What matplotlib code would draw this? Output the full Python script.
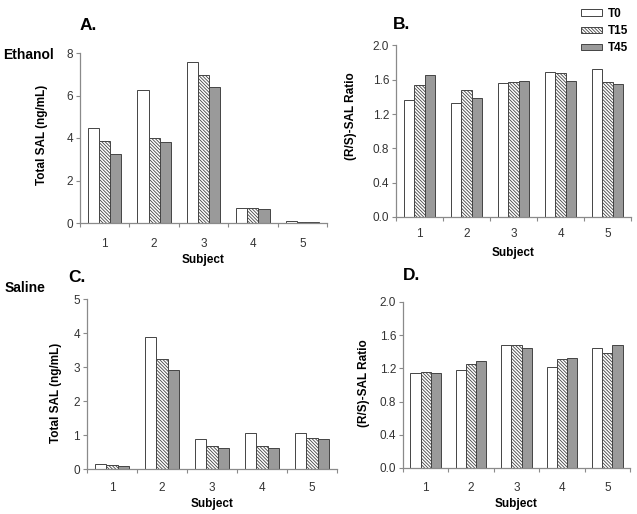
import matplotlib
matplotlib.use("Agg")
import matplotlib.pyplot as plt
import numpy as np
from matplotlib.patches import Patch

plt.rcParams["font.family"] = ["Liberation Sans", "DejaVu Sans"]
plt.rcParams["hatch.linewidth"] = 0.6

subjects = [1, 2, 3, 4, 5]
times = ["T0", "T15", "T45"]

# ethanol group
eth_total_t0 = [4.47, 6.25, 7.58, 0.70, 0.10]
eth_total_t15 = [3.86, 4.02, 6.98, 0.70, 0.05]
eth_total_t45 = [3.25, 3.83, 6.42, 0.66, 0.05]
eth_ratio_t0 = [1.36, 1.33, 1.56, 1.69, 1.73]
eth_ratio_t15 = [1.54, 1.48, 1.57, 1.68, 1.57]
eth_ratio_t45 = [1.65, 1.39, 1.59, 1.59, 1.55]

# saline group
sal_total_t0 = [0.15, 3.90, 0.88, 1.08, 1.07]
sal_total_t15 = [0.12, 3.25, 0.70, 0.70, 0.93]
sal_total_t45 = [0.09, 2.92, 0.62, 0.62, 0.90]
sal_ratio_t0 = [1.15, 1.18, 1.48, 1.22, 1.45]
sal_ratio_t15 = [1.16, 1.25, 1.48, 1.31, 1.39]
sal_ratio_t45 = [1.14, 1.29, 1.44, 1.32, 1.48]

fills = ["white", "white", "#9a9a9a"]
hatches = [None, "\\" * 10, None]
EDGE = "#444444"
SPINE = "#8a8a8a"
TICKC = "#333333"

W, H = 637, 514
fig = plt.figure(figsize=(6.37, 5.14), dpi=100)


def px_axes(left, top, right, bottom):
    return fig.add_axes([left / W, 1 - bottom / H, (right - left) / W, (bottom - top) / H])


def draw_panel(ax, series, ymax, yticks, yfmt, ylabel, ylab_xy, xpad=11, xlabpad=3):
    x = np.array(subjects, dtype=float)
    bw = 0.225
    for i, vals in enumerate(series):
        ax.bar(x + (i - 1) * bw, vals, width=bw, color=fills[i], hatch=hatches[i],
               edgecolor=EDGE, linewidth=0.7)
    ax.set_xlim(0.5, 5.5)
    ax.set_ylim(0, ymax)
    ax.set_yticks(yticks)
    ax.set_yticklabels([yfmt.format(v) for v in yticks])
    ax.set_xticks(subjects)
    ax.set_xticks(np.arange(0.5, 6.0, 1.0), minor=True)
    ax.tick_params(axis="x", which="major", length=0, pad=xpad, labelsize=8.5, labelcolor=TICKC)
    ax.tick_params(axis="x", which="minor", length=3, width=0.8, color=SPINE, direction="out")
    ax.tick_params(axis="y", length=3, width=0.8, color=SPINE, labelsize=8.5, labelcolor=TICKC, pad=2)
    for s in ["top", "right"]:
        ax.spines[s].set_visible(False)
    for s in ["left", "bottom"]:
        ax.spines[s].set_color(SPINE)
        ax.spines[s].set_linewidth(0.9)
    ax.set_xlabel("Subject", fontsize=8.5, fontweight="bold", labelpad=xlabpad)
    ax.set_ylabel(ylabel, fontsize=8.5, fontweight="bold")
    ax.yaxis.set_label_coords(*ylab_xy)


axA = px_axes(80, 53, 327, 223)
draw_panel(axA, [eth_total_t0, eth_total_t15, eth_total_t45], 8, [0, 2, 4, 6, 8], "{:.0f}",
           "Total SAL (ng/mL)", (-0.13, 0.52))
axB = px_axes(396, 45.4, 631, 216.9)
draw_panel(axB, [eth_ratio_t0, eth_ratio_t15, eth_ratio_t45], 2.0, [0, 0.4, 0.8, 1.2, 1.6, 2.0],
           "{:.1f}", "(R/S)-SAL Ratio", (-0.166, 0.59), xpad=8, xlabpad=5)
axC = px_axes(87, 299.3, 337, 469.3)
draw_panel(axC, [sal_total_t0, sal_total_t15, sal_total_t45], 5, [0, 1, 2, 3, 4, 5], "{:.0f}",
           "Total SAL (ng/mL)", (-0.10, 0.45), xpad=9)
axD = px_axes(403, 302, 630, 468)
draw_panel(axD, [sal_ratio_t0, sal_ratio_t15, sal_ratio_t45], 2.0, [0, 0.4, 0.8, 1.2, 1.6, 2.0],
           "{:.1f}", "(R/S)-SAL Ratio", (-0.145, 0.51), xpad=10)

# panel letters and group names
for txt, px, py in [("A.", 80, 25), ("B.", 393, 24), ("C.", 68, 277), ("D.", 403, 276)]:
    fig.text(px / W, 1 - py / H, txt, fontsize=12.5, fontweight="bold", va="center", ha="left")
fig.text(3 / W, 1 - 55 / H, "Ethanol", fontsize=10, fontweight="bold", va="center", ha="left")
fig.text(5 / W, 1 - 288 / H, "Saline", fontsize=10, fontweight="bold", va="center", ha="left")

handles = [Patch(facecolor=fills[i], edgecolor=EDGE, hatch=hatches[i], linewidth=0.7)
           for i in range(3)]
fig.legend(handles, times, loc="upper right", bbox_to_anchor=(636 / W, 1.0),
           frameon=False, prop={"weight": "bold", "size": 8.5}, handlelength=1.8,
           handleheight=0.45, labelspacing=0.45, handletextpad=0.5, borderpad=0.15)

fig.savefig("out.png", dpi=100)
